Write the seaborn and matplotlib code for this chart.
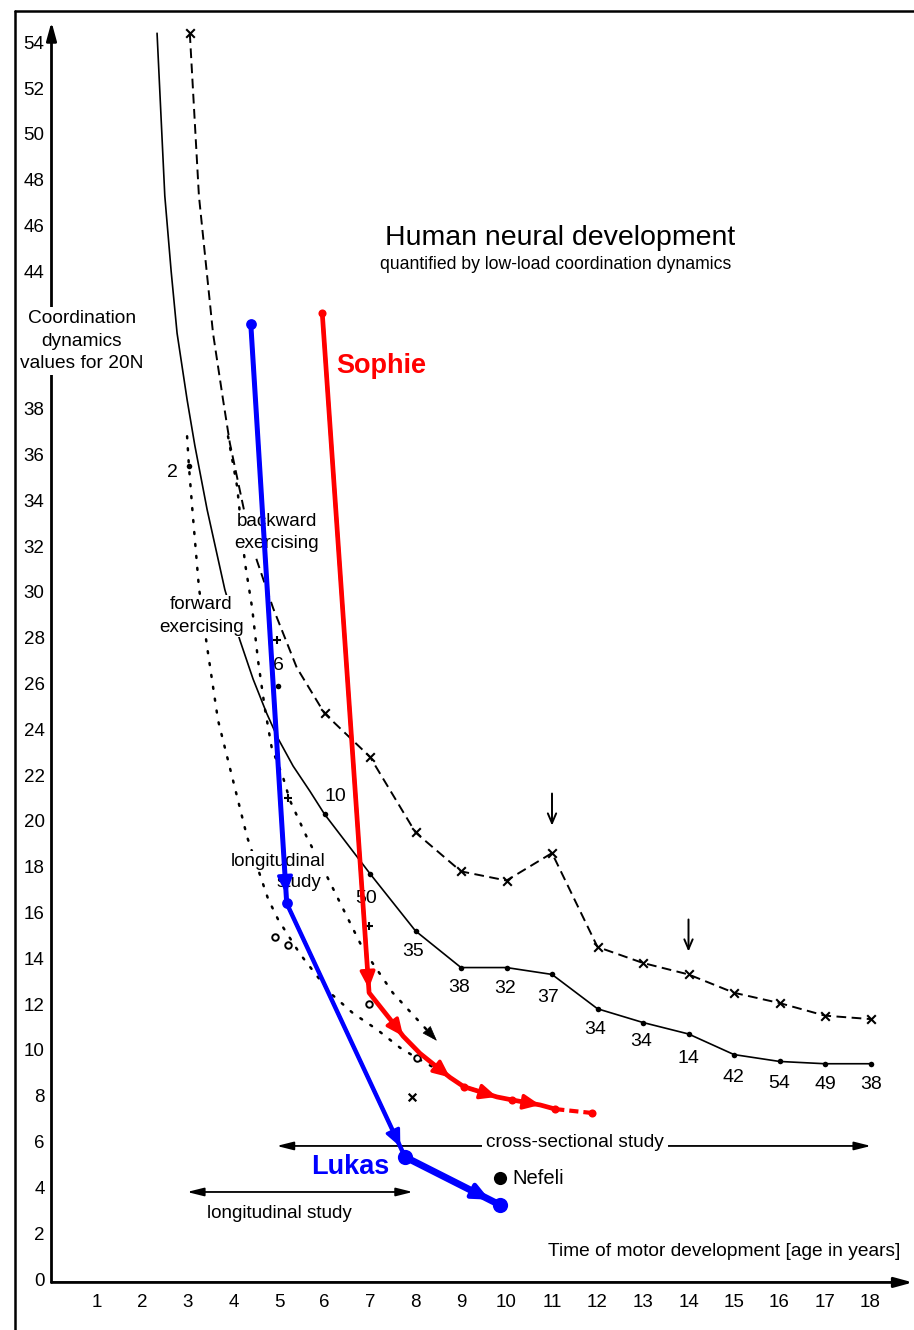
import numpy as np
import pandas as pd
import matplotlib
matplotlib.use("Agg")
import matplotlib.pyplot as plt
from matplotlib.lines import Line2D
import seaborn as sns

# ---------------- data ----------------
age_ticks = list(range(1, 19))
value_ticks = list(range(0, 40, 2)) + list(range(44, 56, 2))

# mean curve (solid line), early hand-drawn part followed by yearly means
mean_x = [2.32, 2.49, 2.63, 2.76, 2.98, 3.15, 3.42, 3.81, 4.14, 4.43, 4.73, 4.98, 5.31, 5.68,
          6, 7, 8, 9, 10, 11, 12, 13, 14, 15, 16, 17, 18]
mean_y = [54.4, 47.3, 44.0, 41.3, 38.4, 36.4, 33.6, 30.1, 27.9, 26.2, 24.7, 23.6, 22.4, 21.3,
          20.3, 17.7, 15.2, 13.6, 13.6, 13.3, 11.8, 11.2, 10.7, 9.8, 9.5, 9.4, 9.4]
mean_pt_x = [6, 7, 8, 9, 10, 11, 12, 13, 14, 15, 16, 17, 18]
mean_pt_y = [20.3, 17.7, 15.2, 13.6, 13.6, 13.3, 11.8, 11.2, 10.7, 9.8, 9.5, 9.4, 9.4]

# upper curve (dashed line with x markers)
upper_x = [3.04, 3.24, 3.55, 3.77, 3.92, 4.25, 4.51, 4.87, 5.39,
           6, 7, 8, 9, 10, 11, 12, 13, 14, 15, 16, 17, 18]
upper_y = [54.4, 47.3, 41.3, 38.4, 36.5, 33.4, 31.4, 29.3, 26.7,
           24.7, 22.8, 19.5, 17.8, 17.4, 18.6, 14.5, 13.8, 13.3, 12.5, 12.05, 11.5, 11.35]
upper_pt_x = [3.04, 6, 7, 8, 9, 10, 11, 12, 13, 14, 15, 16, 17, 18]
upper_pt_y = [54.4, 24.7, 22.8, 19.5, 17.8, 17.4, 18.6, 14.5, 13.8, 13.3, 12.5, 12.05, 11.5, 11.35]

# forward exercising (dotted, left)
fwd_x = [2.98, 3.02, 3.10, 3.24, 3.42, 3.66, 4.30, 4.76, 4.98, 5.46, 6.12, 6.63, 7.15, 7.66, 8.03, 8.38, 8.60]
fwd_y = [36.8, 35.5, 33.5, 30.2, 27.6, 24.4, 19.3, 16.6, 15.7, 14.2, 12.5, 11.6, 10.9, 10.1, 9.65, 9.26, 9.0]

# backward exercising (dotted, right, ends in an arrow)
bwd_x = [3.88, 4.08, 4.25, 4.41, 4.54, 4.69, 4.84, 5.09, 5.24, 5.61, 6.05, 6.85, 7.50, 8.10, 8.47]
bwd_y = [36.8, 34.6, 31.3, 29.3, 27.0, 24.9, 23.2, 21.9, 20.9, 19.3, 17.6, 14.4, 12.5, 11.2, 10.4]

# single observations
plus_x = [4.95, 5.20, 6.98]
plus_y = [27.9, 21.0, 15.4]
ring_x = [4.91, 5.20, 6.98, 8.03]
ring_y = [14.93, 14.6, 12.0, 9.65]
cross_x = [7.92]
cross_y = [7.95]
dot_x = [3.02, 4.98]
dot_y = [35.5, 25.9]

# group sizes written next to the curves
n_text = ["2", "6", "10", "50", "35", "38", "32", "37", "34", "34", "14", "42", "54", "49", "38"]
n_x = [2.65, 4.98, 6.25, 6.91, 7.94, 8.96, 9.97, 10.91, 11.95, 12.96, 13.99, 14.98, 15.99, 17.0, 18.01]
n_y = [35.2, 26.8, 21.05, 16.6, 14.3, 12.75, 12.7, 12.3, 10.9, 10.35, 9.65, 8.8, 8.55, 8.5, 8.5]

# Lukas (blue) and Sophie (red) trajectories
lukas_x = [4.38, 5.17, 7.77, 9.86]
lukas_y = [41.7, 16.4, 5.33, 3.23]
sophie_x = [5.95, 6.98, 7.22, 7.50, 7.73, 8.10, 8.47, 8.76, 9.06, 9.79, 10.12, 10.74, 11.07, 11.88]
sophie_y = [42.2, 12.5, 11.9, 11.2, 10.6, 9.85, 9.26, 8.8, 8.4, 7.95, 7.82, 7.6, 7.42, 7.25]
sophie_dots = [0, 8, 10, 12, 13]
sophie_arrows = [1, 4, 7, 9, 11]

nefeli_x = [9.86]
nefeli_y = [4.41]

# marked ages (down arrows)
mark_x = [11.0, 14.0]
mark_top = [21.2, 15.7]
mark_tip = [19.8, 14.3]

# study ranges
cross_range = [4.95, 18.01]
cross_level = 5.81
long_range = [2.98, 7.94]
long_level = 3.8

# ---------------- figure ----------------
sns.set_style("white")
plt.rcParams["font.family"] = ["Liberation Sans", "DejaVu Sans"]
plt.rcParams["text.color"] = "black"
plt.rcParams["xtick.color"] = "black"
plt.rcParams["ytick.color"] = "black"
plt.rcParams["xtick.labelcolor"] = "black"
plt.rcParams["ytick.labelcolor"] = "black"

W, H = 914, 1330
fig = plt.figure(figsize=(W / 100, H / 100), dpi=100)
px_per_x = 45.5
px_per_y = 22.9
x0_px, y0_px = 51.5, 1279.0
xmax, ymin, ymax = 19.2, -0.15, 55.5
left = x0_px / W
width = xmax * px_per_x / W
bottom = (H - (y0_px - ymin * px_per_y)) / H
height = (ymax - ymin) * px_per_y / H
ax = fig.add_axes([left, bottom, width, height])
ax.set_xlim(0, xmax)
ax.set_ylim(ymin, ymax)
ax.set_facecolor("none")
for s in ax.spines.values():
    s.set_visible(False)

# axes arrows
ax.annotate("", xy=(0, 54.9), xytext=(0, ymin),
            arrowprops=dict(arrowstyle="-|>,head_length=1.1,head_width=0.3", lw=2.0,
                            color="black", shrinkA=0, shrinkB=0, mutation_scale=10),
            annotation_clip=False, zorder=1.5)
ax.annotate("", xy=(18.93, ymin), xytext=(0, ymin),
            arrowprops=dict(arrowstyle="-|>,head_length=1.1,head_width=0.3", lw=2.0,
                            color="black", shrinkA=0, shrinkB=0, mutation_scale=10),
            annotation_clip=False, zorder=1.5)

ax.set_xticks(age_ticks)
ax.set_yticks(value_ticks)
ax.set_xticklabels([str(v) for v in age_ticks])
ax.set_yticklabels([str(v) for v in value_ticks])
ax.tick_params(axis="y", direction="out", length=4, width=1.2, labelsize=13.5, pad=1,
               colors="black", labelcolor="black")
ax.tick_params(axis="x", direction="out", length=3, width=1.2, labelsize=13.5, pad=5,
               colors="black", labelcolor="black")

# black curves
sns.lineplot(x=mean_x, y=mean_y, sort=False, estimator=None, ax=ax, color="black",
             linewidth=1.2, zorder=2)
sns.lineplot(x=upper_x, y=upper_y, sort=False, estimator=None, ax=ax, color="black",
             linewidth=1.4, linestyle=(0, (5, 2.8)), zorder=2)
sns.lineplot(x=fwd_x, y=fwd_y, sort=False, estimator=None, ax=ax, color="black",
             linewidth=1.8, linestyle=(0, (0.8, 4.0)), dash_capstyle="round", zorder=2)
sns.lineplot(x=bwd_x, y=bwd_y, sort=False, estimator=None, ax=ax, color="black",
             linewidth=1.8, linestyle=(0, (0.8, 4.0)), dash_capstyle="round", zorder=2)
ax.annotate("", xy=(bwd_x[-1], bwd_y[-1]), xytext=(bwd_x[-2], bwd_y[-2]),
            arrowprops=dict(arrowstyle="-|>,head_length=1.0,head_width=0.35", lw=0.5,
                            color="black", shrinkA=6, shrinkB=0, mutation_scale=10),
            zorder=2)

# markers
sns.scatterplot(x=mean_pt_x, y=mean_pt_y, ax=ax, color="black", s=16, marker="o",
                edgecolor="black", linewidth=0, zorder=3)
sns.scatterplot(x=dot_x, y=dot_y, ax=ax, color="black", s=16, marker="o",
                edgecolor="black", linewidth=0, zorder=3)
sns.scatterplot(x=upper_pt_x, y=upper_pt_y, ax=ax, color="black", s=38, marker="x",
                linewidth=1.5, zorder=3)
sns.scatterplot(x=cross_x, y=cross_y, ax=ax, color="black", s=30, marker="x",
                linewidth=1.6, zorder=3)
sns.scatterplot(x=plus_x, y=plus_y, ax=ax, color="black", s=36, marker="+",
                linewidth=1.5, zorder=3)
sns.scatterplot(x=ring_x, y=ring_y, ax=ax, color="white", s=22, marker="o",
                edgecolor="black", linewidth=1.4, zorder=3)
sns.scatterplot(x=nefeli_x, y=nefeli_y, ax=ax, color="black", s=90, marker="o",
                edgecolor="black", linewidth=0, zorder=3)

# down arrows
for mx, mt, mb in zip(mark_x, mark_top, mark_tip):
    ax.annotate("", xy=(mx, mb), xytext=(mx, mt),
                arrowprops=dict(arrowstyle="->,head_length=0.7,head_width=0.3", lw=1.4,
                                color="black", shrinkA=0, shrinkB=0, mutation_scale=10),
                zorder=3)

# group sizes
for t, x, y in zip(n_text, n_x, n_y):
    ax.text(x, y, t, fontsize=14, ha="center", va="center", color="black", zorder=3)

# study range arrows
ax.annotate("", xy=(cross_range[1], cross_level), xytext=(cross_range[0], cross_level),
            arrowprops=dict(arrowstyle="<|-|>,head_length=1.0,head_width=0.25", lw=1.3,
                            color="black", shrinkA=0, shrinkB=0, mutation_scale=10), zorder=2)
ax.annotate("", xy=(long_range[1], long_level), xytext=(long_range[0], long_level),
            arrowprops=dict(arrowstyle="<|-|>,head_length=1.0,head_width=0.25", lw=1.3,
                            color="black", shrinkA=0, shrinkB=0, mutation_scale=10), zorder=2)

# text labels (white boxes hide black lines beneath)
wb = dict(facecolor="white", edgecolor="none", pad=1.0)
ax.text(0.67, 40.96, "Coordination\ndynamics\nvalues for 20N", fontsize=13.8, ha="center",
        va="center", linespacing=1.42, color="black",
        bbox=dict(facecolor="white", edgecolor="none", pad=2.5), zorder=4)
ax.text(4.95, 32.6, "backward\nexercising", fontsize=13.6, ha="center", va="center",
        linespacing=1.45, color="black", bbox=wb, zorder=4)
ax.text(3.29, 28.95, "forward\nexercising", fontsize=13.6, ha="center", va="center",
        linespacing=1.45, color="black", bbox=wb, zorder=4)
ax.text(4.98, 18.25, "longitudinal", fontsize=13.6, ha="center", va="center", color="black",
        bbox=wb, zorder=4)
ax.text(5.44, 17.3, "study", fontsize=13.6, ha="center", va="center", color="black",
        bbox=wb, zorder=4)
ax.text(5.0, 2.84, "longitudinal study", fontsize=13.6, ha="center", va="center",
        color="black", zorder=4)
ax.text(11.5, 5.98, "cross-sectional study", fontsize=13.8, ha="center", va="center",
        color="black", bbox=dict(facecolor="white", edgecolor="none", pad=3), zorder=4)
ax.text(10.14, 4.41, "Nefeli", fontsize=14.5, ha="left", va="center", color="black", zorder=4)
ax.text(18.65, 1.22, "Time of motor development [age in years]", fontsize=13.8,
        ha="right", va="center", color="black", zorder=4)
ax.text(11.18, 45.46, "Human neural development", fontsize=20.5, ha="center", va="center",
        color="black", zorder=4)
ax.text(11.09, 44.28, "quantified by low-load coordination dynamics", fontsize=12.7,
        ha="center", va="center", color="black", zorder=4)

# Sophie (red)
red = "#FF0000"
sns.lineplot(x=sophie_x[:1 + sophie_dots[3]], y=sophie_y[:1 + sophie_dots[3]], sort=False,
             estimator=None, ax=ax, color=red, linewidth=3.4, zorder=5)
sns.lineplot(x=sophie_x[sophie_dots[3]:], y=sophie_y[sophie_dots[3]:], sort=False,
             estimator=None, ax=ax, color=red, linewidth=3.0, linestyle=(0, (2.2, 1.2)),
             zorder=5)
for k in sophie_arrows:
    ax.annotate("", xy=(sophie_x[k], sophie_y[k]), xytext=(sophie_x[k - 1], sophie_y[k - 1]),
                arrowprops=dict(arrowstyle="-|>,head_length=1.0,head_width=0.45", lw=2.5,
                                color=red, shrinkA=0, shrinkB=3 if k == 1 else 0,
                                mutation_scale=10), zorder=5)
sns.scatterplot(x=[sophie_x[i] for i in sophie_dots], y=[sophie_y[i] for i in sophie_dots],
                ax=ax, color=red, s=34, marker="o", edgecolor=red, linewidth=0, zorder=6)
ax.text(6.25, 39.87, "Sophie", fontsize=19.5, fontweight="bold", color=red, ha="left",
        va="center", zorder=6)

# Lukas (blue)
blue = "#0000FF"
lukas_lw = [3.6, 3.2, 5.0]
lukas_shrink = [7, 8, 8.5]
for i in range(3):
    sns.lineplot(x=lukas_x[i:i + 2], y=lukas_y[i:i + 2], sort=False, estimator=None, ax=ax,
                 color=blue, linewidth=lukas_lw[i], zorder=5)
    ax.annotate("", xy=(lukas_x[i + 1], lukas_y[i + 1]), xytext=(lukas_x[i], lukas_y[i]),
                arrowprops=dict(arrowstyle="-|>,head_length=1.0,head_width=0.45",
                                lw=lukas_lw[i] * 0.7, color=blue, shrinkA=0,
                                shrinkB=lukas_shrink[i], mutation_scale=10), zorder=5)
sns.scatterplot(x=lukas_x[:2], y=lukas_y[:2], ax=ax, color=blue, s=60,
                marker="o", edgecolor=blue, linewidth=0, zorder=6)
sns.scatterplot(x=lukas_x[2:], y=lukas_y[2:], ax=ax, color=blue, s=120,
                marker="o", edgecolor=blue, linewidth=0, zorder=6)
ax.text(5.70, 4.89, "Lukas", fontsize=19.5, fontweight="bold", color=blue, ha="left",
        va="center", zorder=6)

if ax.get_legend() is not None:
    ax.get_legend().remove()

# page frame (left and top border)
fig.add_artist(Line2D([14.5 / W, 14.5 / W], [0, 1 - 10.5 / H], color="black", lw=1.8))
fig.add_artist(Line2D([14.5 / W, 1], [1 - 10.5 / H, 1 - 10.5 / H], color="black", lw=1.8))

fig.savefig("out.png", dpi=100, facecolor="white")
